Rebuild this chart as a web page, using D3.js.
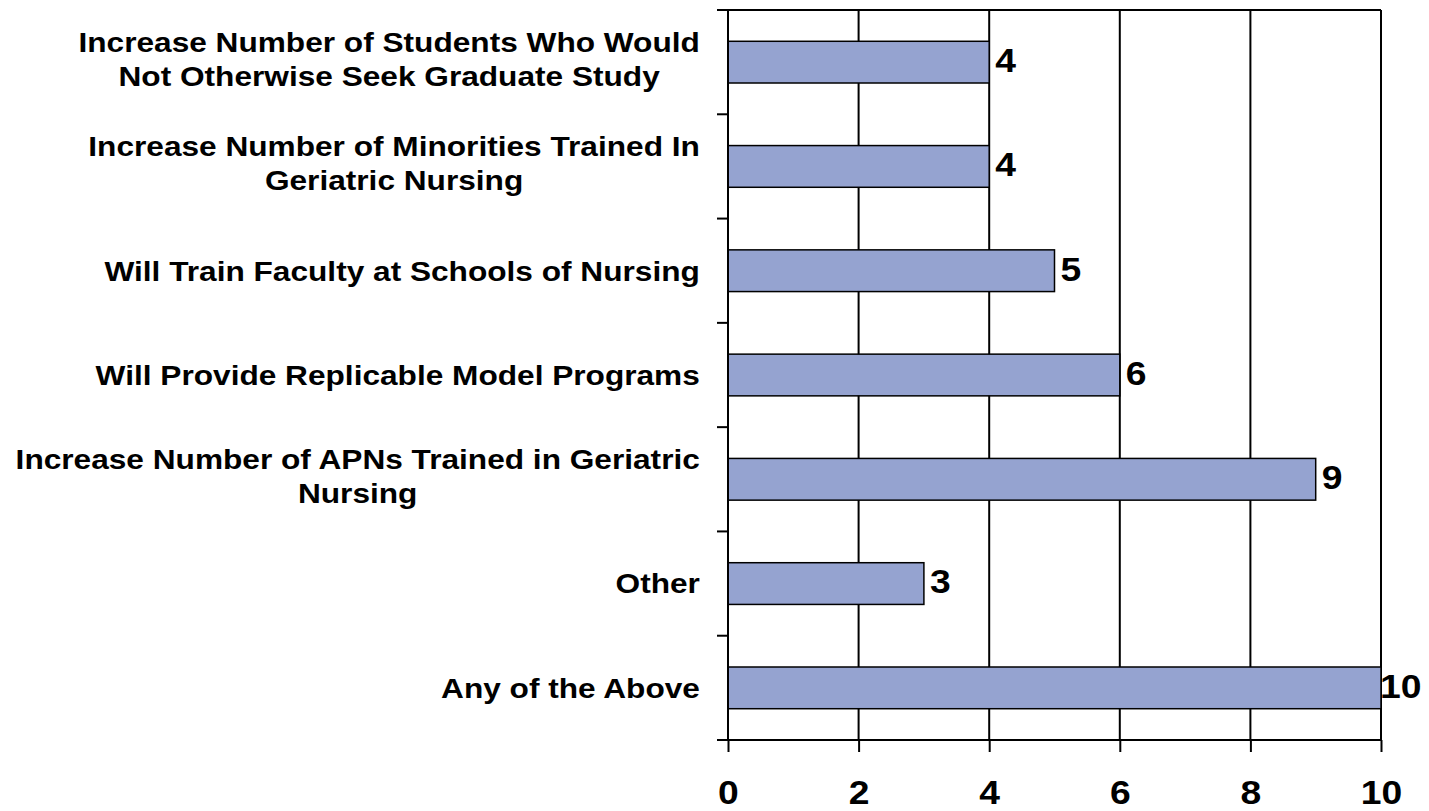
<!DOCTYPE html>
<html><head><meta charset="utf-8">
<script src="https://cdn.jsdelivr.net/npm/d3@7"></script>
<style>body{margin:0;background:#fff}</style>
</head><body>
<svg id="c" width="1429" height="811"></svg>
<script>
const categories = [
  ["Increase Number of Students Who Would","Not Otherwise Seek Graduate Study"],
  ["Increase Number of Minorities Trained In","Geriatric Nursing"],
  ["Will Train Faculty at Schools of Nursing"],
  ["Will Provide Replicable Model Programs"],
  ["Increase Number of APNs Trained in Geriatric","Nursing"],
  ["Other"],
  ["Any of the Above"]
];
const values = [4,4,5,6,9,3,10];
const xTicks = [0,2,4,6,8,10];

const svg = d3.select("#c");
const font = "'Liberation Sans', Arial, sans-serif";
const SX = 1.13;
const L = 728, R = 1381, T = 10, B = 740;
const x = d3.scaleLinear().domain([0,10]).range([L,R]);
const y = d3.scaleBand().domain(d3.range(categories.length)).range([T,B]).paddingInner(0.6).paddingOuter(0.3);
const yb = d3.scaleBand().domain(d3.range(categories.length)).range([T,B]);

// gridlines
svg.append("g").selectAll("line").data(xTicks.filter(d=>d>0)).join("line")
  .attr("x1",d=>x(d)).attr("x2",d=>x(d)).attr("y1",T).attr("y2",B)
  .attr("stroke","#000").attr("stroke-width",2);
// top border
svg.append("line").attr("x1",L-11).attr("x2",R).attr("y1",T).attr("y2",T).attr("stroke","#000").attr("stroke-width",2);

// bars
svg.append("g").selectAll("rect").data(values).join("rect")
  .attr("x",x(0)).attr("y",(d,i)=>y(i)).attr("width",d=>x(d)-x(0)).attr("height",y.bandwidth())
  .attr("fill","#95a3d0").attr("stroke","#000").attr("stroke-width",1.5);

// y axis
const yAxis = svg.append("g");
yAxis.append("line").attr("x1",L).attr("x2",L).attr("y1",T).attr("y2",B).attr("stroke","#000").attr("stroke-width",2);
const bounds = d3.range(categories.length+1).map(i=> i<categories.length ? yb(i) : B);
yAxis.selectAll("line.t").data(bounds).join("line").attr("class","t")
  .attr("x1",L-11).attr("x2",L).attr("y1",d=>d).attr("y2",d=>d).attr("stroke","#000").attr("stroke-width",2);

// x axis
const xAxisG = svg.append("g").attr("transform",`translate(0,${B})`)
  .call(d3.axisBottom(x).tickValues(xTicks).tickSize(12).tickPadding(29).tickSizeOuter(0));
xAxisG.select(".domain").attr("stroke","#000").attr("stroke-width",2).attr("d",`M${L-11},0H${R}`);
xAxisG.selectAll(".tick line").attr("stroke","#000").attr("stroke-width",2);
xAxisG.selectAll(".tick text").attr("font-family",font).attr("font-weight","bold").attr("font-size",33).attr("fill","#000")
  .attr("transform",`scale(${SX},1)`);

// category labels
const lab = svg.append("g").selectAll("text").data(categories).join("text")
  .attr("text-anchor","middle").attr("font-family",font).attr("font-weight","bold").attr("font-size",28).attr("fill","#000");
lab.each(function(d,i){
  const t = d3.select(this);
  const n = d.length;
  d.forEach((s,j)=>{
    t.append("tspan").attr("x",0).attr("y",(j-(n-1)/2)*34 - (n>1?3:0)).attr("dy","0.35em").text(s);
  });
  const bb = this.getBBox();
  t.attr("transform",`translate(${700-bb.width*SX/2},${yb(i)+yb.bandwidth()/2}) scale(${SX},1)`);
});

// value labels
svg.append("g").selectAll("text").data(values).join("text")
  .attr("transform",(d,i)=>`translate(${x(d)+(d===10?-1:6)},${y(i)+y.bandwidth()/2-2}) scale(${SX},1)`)
  .attr("dy","0.36em")
  .attr("font-family",font).attr("font-weight","bold").attr("font-size",33).attr("fill","#000")
  .text(d=>d);
</script>
</body></html>
